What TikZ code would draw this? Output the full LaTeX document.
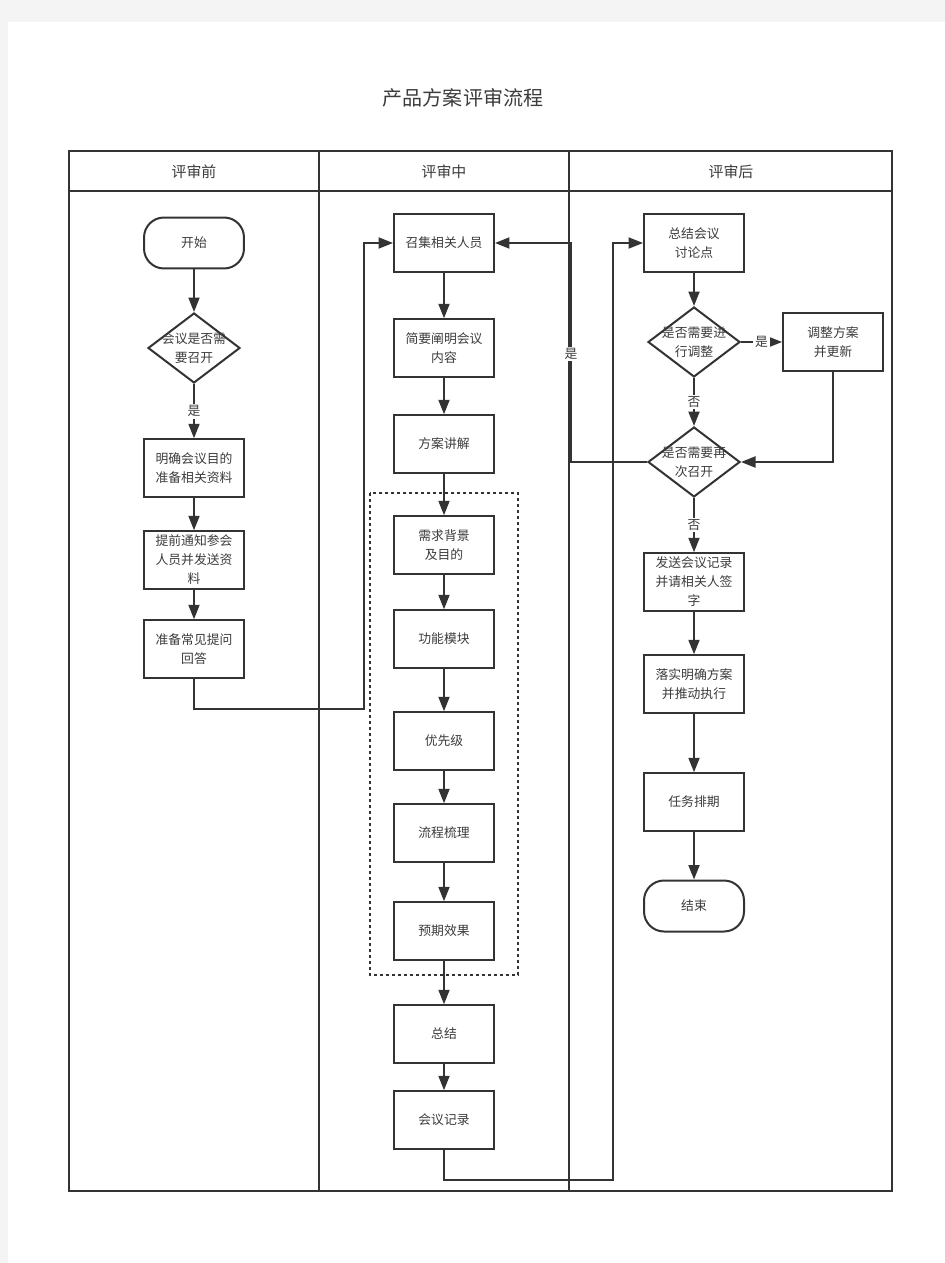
\documentclass[tikz,border=0pt]{standalone}
\usepackage{fontspec}
\setmainfont{Noto Sans CJK SC}
\usetikzlibrary{arrows.meta, positioning, shapes.geometric, backgrounds}
\definecolor{linegray}{HTML}{333333}
\definecolor{textgray}{HTML}{3C3C3C}
\definecolor{pagegray}{HTML}{F4F4F4}
\newcommand{\nodefont}{\fontsize{7.3}{10.8}\selectfont}
\tikzset{
	stepbox/.style = {draw=linegray, line width=0.04cm, fill=white, minimum width=2cm, minimum height=1.15cm, inner sep=0pt, align=center, font=\nodefont, text=textgray},
	termbox/.style = {stepbox, rounded corners=0.4cm, minimum height=1.02cm},
	decision/.style = {draw=linegray, line width=0.04cm, fill=white, diamond, minimum width=1.84cm, minimum height=1.4cm, inner sep=0pt},
	diamtxt/.style = {align=center, font=\nodefont, text=textgray, inner sep=0pt},
	arr/.style = {draw=linegray, line width=0.04cm, -{Triangle[length=0.29cm,width=0.22cm]}},
	elbl/.style = {fill=white, inner sep=1pt, font=\nodefont, text=textgray},
	lane/.style = {draw=linegray, line width=0.04cm},
	lanehead/.style = {font=\fontsize{8.5}{10}\selectfont, text=textgray},
}

\begin{document}
\begin{tikzpicture}[x=0.02cm, y=-0.02cm]
\useasboundingbox (0,0) rectangle (945,1263);
\fill[pagegray] (0,0) rectangle (945,1263);
\fill[white] (8,22) rectangle (945,1263);

% title and swimlanes
\node[font=\fontsize{11.4}{13}\selectfont, text=textgray] (title) at (463,98) {产品方案评审流程};
\draw[lane] (69,151) rectangle (892,1191);
\draw[lane] (69,191) -- (892,191);
\draw[lane] (319,151) -- (319,1191);
\draw[lane] (569,151) -- (569,1191);
\node[lanehead] (hdpre) at (194,172) {评审前};
\node[lanehead] (hdmid) at (444,172) {评审中};
\node[lanehead] (hdpost) at (731,172) {评审后};

% dotted group
\draw[linegray, line width=0.04cm, dash pattern=on 0.06cm off 0.06cm] (370,493) rectangle (518,975);

% before review
\node[termbox] (start) at (194,243) {开始};
\node[decision, label={[diamtxt]center:{会议是否需\\要召开}}] (need) at (194,348) {};
\node[stepbox] (goal) at (194,468) {明确会议目的\\准备相关资料};
\node[stepbox] (notify) at (194,560) {提前通知参会\\人员并发送资\\料};
\node[stepbox] (faq) at (194,649) {准备常见提问\\回答};

% during review
\node[stepbox] (call) at (444,243) {召集相关人员};
\node[stepbox] (brief) at (444,348) {简要阐明会议\\内容};
\node[stepbox] (pitch) at (444,444) {方案讲解};
\node[stepbox] (bg) at (444,545) {需求背景\\及目的};
\node[stepbox] (func) at (444,639) {功能模块};
\node[stepbox] (prio) at (444,741) {优先级};
\node[stepbox] (flow) at (444,833) {流程梳理};
\node[stepbox] (expect) at (444,931) {预期效果};
\node[stepbox] (summ) at (444,1034) {总结};
\node[stepbox] (record) at (444,1120) {会议记录};

% after review
\node[stepbox] (points) at (694,243) {总结会议\\讨论点};
\node[decision, label={[diamtxt]center:{是否需要进\\行调整}}] (adjust) at (694,342) {};
\node[stepbox] (update) at (833,342) {调整方案\\并更新};
\node[decision, label={[diamtxt]center:{是否需要再\\次召开}}] (again) at (694,462) {};
\node[stepbox] (send) at (694,582) {发送会议记录\\并请相关人签\\字};
\node[stepbox] (exec) at (694,684) {落实明确方案\\并推动执行};
\node[stepbox] (sched) at (694,802) {任务排期};
\node[termbox] (finish) at (694,906) {结束};

% connectors
\draw[arr] (start) -- (need);
\draw[arr] (need) -- node[elbl] {是} (goal);
\draw[arr] (goal) -- (notify);
\draw[arr] (notify) -- (faq);
\draw[arr] (faq.south) -- ++(0,30) -| (364,400) |- (call.west);

\foreach \a/\b in {call/brief, brief/pitch, pitch/bg, bg/func, func/prio, prio/flow, flow/expect, expect/summ, summ/record}
	\draw[arr] (\a) -- (\b);
\draw[arr] (record.south) -- ++(0,30) -| (613,600) |- (points.west);

\draw[arr] (points) -- (adjust);
\draw[arr] (adjust) -- node[elbl] {是} (update);
\draw[arr] (adjust) -- node[elbl] {否} (again);
\draw[arr] (update.south) |- (again.east);
\draw[arr] (again.west) -| (571,300) |- (call.east);
\node[elbl] (yesback) at (571,354) {是};
\draw[arr] (again) -- node[elbl] {否} (send);
\foreach \a/\b in {send/exec, exec/sched, sched/finish}
	\draw[arr] (\a) -- (\b);
\end{tikzpicture}
\end{document}
